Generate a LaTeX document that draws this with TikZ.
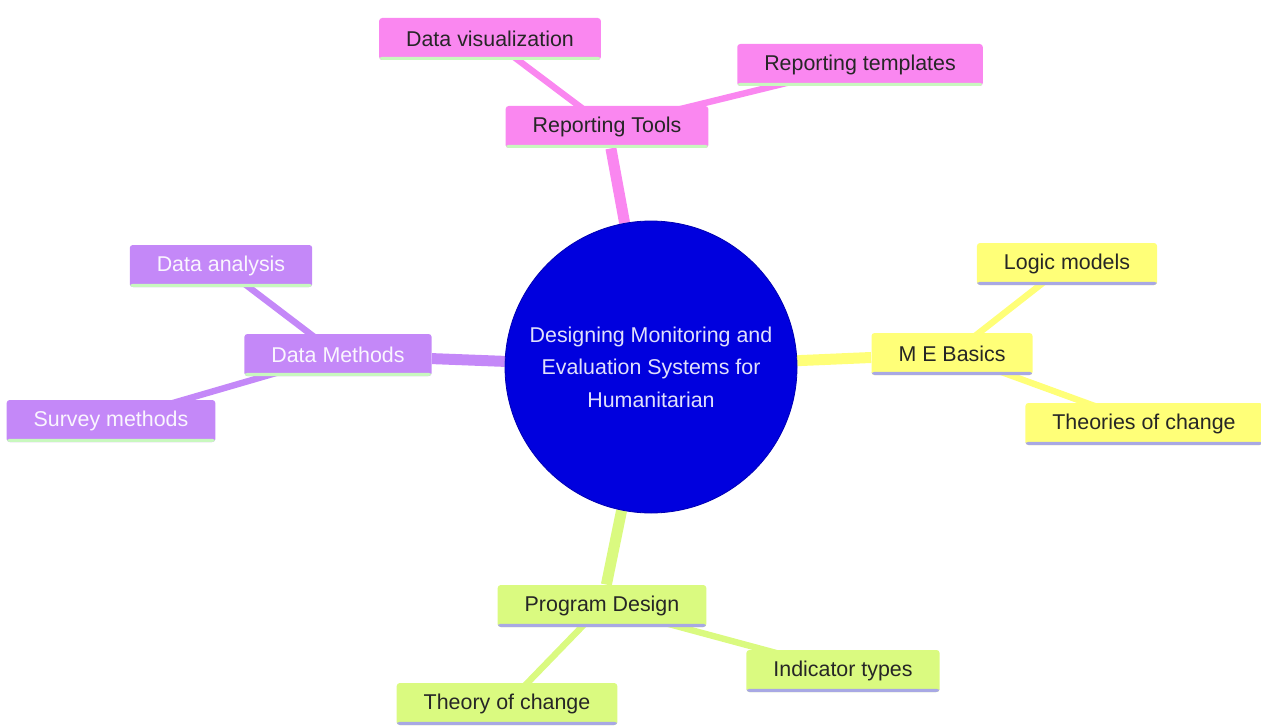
\documentclass[tikz,border=0pt]{standalone}
\usepackage{fontspec}
\setmainfont{Liberation Sans}
\usetikzlibrary{backgrounds}
\definecolor{rootblue}{RGB}{0,0,222}
\definecolor{pinkfill}{RGB}{250,135,240}
\definecolor{purplefill}{RGB}{196,136,248}
\definecolor{yellowfill}{RGB}{255,255,120}
\definecolor{greenfill}{RGB}{218,250,128}
\definecolor{mintline}{RGB}{200,248,190}
\definecolor{lavline}{RGB}{168,168,228}
\tikzset{
  box/.style={rectangle, rounded corners=1.5pt, minimum height=21pt,
    inner xsep=13.5pt, font=\fontsize{10.7}{13}\selectfont, text=black!85},
  underline/.style={path picture={\fill[#1]
    ([yshift=1.6pt]path picture bounding box.south west)
    rectangle (path picture bounding box.south east);}},
  pinkbox/.style={box, fill=pinkfill, underline=mintline},
  purplebox/.style={box, fill=purplefill, underline=mintline, text=white!92!purplefill},
  yellowbox/.style={box, fill=yellowfill, underline=lavline},
  greenbox/.style={box, fill=greenfill, underline=lavline},
  root/.style={circle, fill=rootblue, draw=rootblue!80!black, minimum size=146pt,
    inner sep=0pt, align=center, text=white!88!rootblue,
    font=\fontsize{10.7}{16.2}\selectfont},
  trunk/.style={line width=5.5pt},
  twig/.style={line width=3.2pt}
}
\begin{document}
\begin{tikzpicture}[x=0.5pt,y=-0.5pt]
  \useasboundingbox (0,0) rectangle (1261,727);
  \node[root] (me) at (651,367)
    {Designing Monitoring and\\Evaluation Systems for\\Humanitarian};
  % reporting branch
  \node[pinkbox] (tools) at (607,127) {Reporting Tools};
  \node[pinkbox] (viz) at (490,39) {Data visualization};
  \node[pinkbox] (templates) at (860,65) {Reporting templates};
  % data branch
  \node[purplebox] (methods) at (338,355) {Data Methods};
  \node[purplebox] (analysis) at (221,266) {Data analysis};
  \node[purplebox] (survey) at (111,421) {Survey methods};
  % basics branch
  \node[yellowbox] (basics) at (952,354) {M E Basics};
  \node[yellowbox] (logic) at (1067,264) {Logic models};
  \node[yellowbox] (theories) at (1144,424) {Theories of change};
  % design branch
  \node[greenbox] (design) at (602,606) {Program Design};
  \node[greenbox] (indicators) at (843,671) {Indicator types};
  \node[greenbox] (theory) at (507,704) {Theory of change};
  \begin{scope}[on background layer]
    \draw[trunk, pinkfill] (me) to (tools);
    \draw[twig, pinkfill] (tools.center) to (viz.center);
    \draw[twig, pinkfill] (tools.center) to (templates.center);
    \draw[trunk, purplefill] (me) to (methods);
    \draw[twig, purplefill] (methods.center) to (analysis.center);
    \draw[twig, purplefill] (methods.center) to (survey.center);
    \draw[trunk, yellowfill] (me) to (basics);
    \draw[twig, yellowfill] (basics.center) to (logic.center);
    \draw[twig, yellowfill] (basics.center) to (theories.center);
    \draw[trunk, greenfill] (me) to (design);
    \draw[twig, greenfill] (design.center) to (indicators.center);
    \draw[twig, greenfill] (design.center) to (theory.center);
  \end{scope}
\end{tikzpicture}
\end{document}
